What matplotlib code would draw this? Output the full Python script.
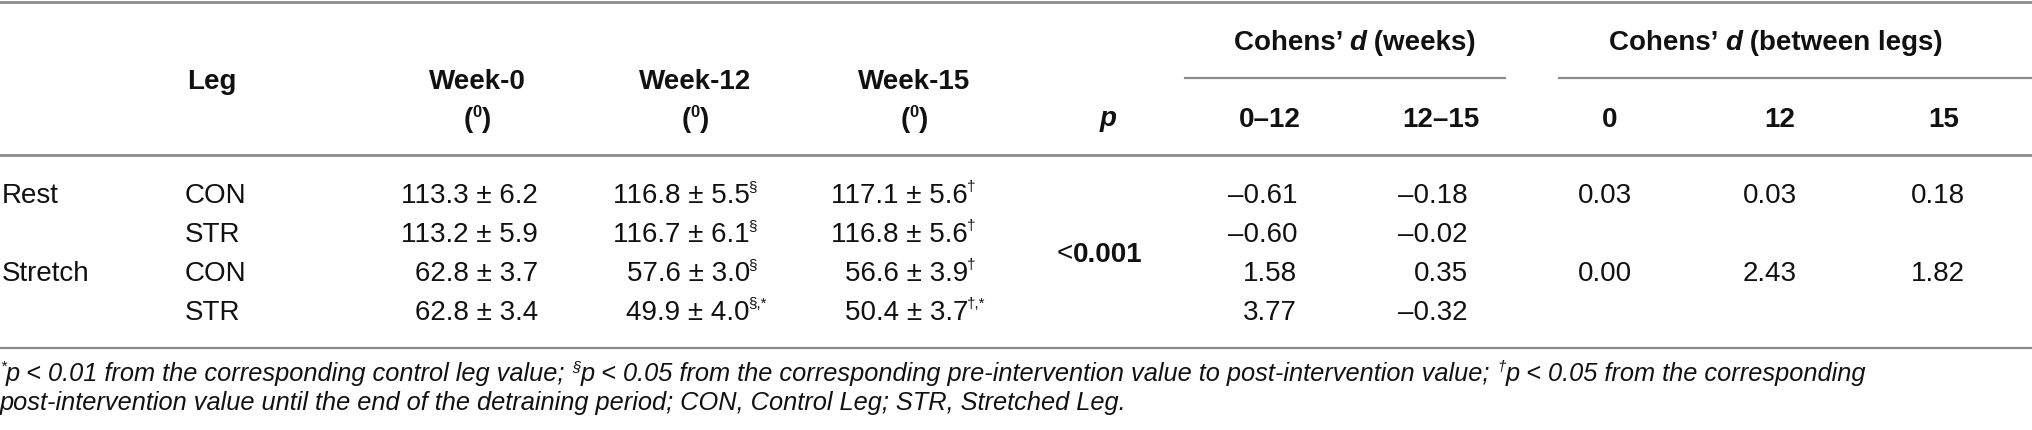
import matplotlib
matplotlib.use("Agg")
import matplotlib.pyplot as plt

# table values
groups = ["Rest", "", "Stretch", ""]
legs = ["CON", "STR", "CON", "STR"]
wk0_mean = [113.3, 113.2, 62.8, 62.8]
wk0_sd = [6.2, 5.9, 3.7, 3.4]
wk12_mean = [116.8, 116.7, 57.6, 49.9]
wk12_sd = [5.5, 6.1, 3.0, 4.0]
wk12_sup = ["§", "§", "§", "§,*"]
wk15_mean = [117.1, 116.8, 56.6, 50.4]
wk15_sd = [5.6, 5.6, 3.9, 3.7]
wk15_sup = ["†", "†", "†", "†,*"]
d_0_12 = [-0.61, -0.60, 1.58, 3.77]
d_12_15 = [-0.18, -0.02, 0.35, -0.32]
legs_rows = [0, 2]
d_leg_0 = [0.03, 0.00]
d_leg_12 = [0.03, 2.43]
d_leg_15 = [0.18, 1.82]
p_text = "0.001"

FS = 20
FN = 18.3
TC = "#111111"
plt.rcParams['font.family'] = ['Liberation Sans', 'DejaVu Sans']

fig = plt.figure(figsize=(20.32, 4.30), dpi=100)
ax = fig.add_axes([0, 0, 1, 1])
ax.set_xlim(0, 2032)
ax.set_ylim(430, 0)
ax.axis("off")
fig.canvas.draw()
rend = fig.canvas.get_renderer()


def width(s, **kw):
    # measure advance with sentinels so spaces count
    t1 = ax.text(0, 0, "|" + s + "|", **kw)
    t2 = ax.text(0, 0, "||", **kw)
    w = t1.get_window_extent(rend).width - t2.get_window_extent(rend).width
    t1.remove()
    t2.remove()
    return w


def runs(x, y, parts, ha="left"):
    # parts: (text, size, style, weight, dy)
    ws = []
    for txt, size, style, weight, dy in parts:
        ws.append(width(txt, fontsize=size, fontstyle=style, fontweight=weight))
    total = sum(ws)
    if ha == "center":
        x -= total / 2
    elif ha == "right":
        x -= total
    for (txt, size, style, weight, dy), w in zip(parts, ws):
        ax.text(x, y + dy, txt, fontsize=size, fontstyle=style,
                fontweight=weight, va="baseline", ha="left", color=TC)
        x += w


def txt(x, y, s, ha="left", weight="normal"):
    ax.text(x, y, s, fontsize=FS, fontweight=weight, va="baseline", ha=ha, color=TC)


def sup_val(xr, y, main, sup=""):
    txt(xr, y, main, ha="right")
    if sup:
        ax.text(xr - 1.5, y - 12, sup, fontsize=FS * 0.55, va="baseline", ha="left", color=TC)


def fmt(v):
    s = "%.2f" % abs(v)
    return ("\u2013" + s) if v < 0 else s


line_c = "#8c8c8c"
ax.plot([0, 2032], [1.5, 1.5], color=line_c, lw=2)
ax.plot([0, 2032], [154.5, 154.5], color=line_c, lw=2)
ax.plot([0, 2032], [348, 348], color=line_c, lw=1.6)
ax.plot([1185, 1505], [78, 78], color=line_c, lw=1.6)
ax.plot([1559, 2032], [78, 78], color=line_c, lw=1.6)

# header
txt(187, 89, "Leg", weight="bold")
for xc, lab in [(477, "Week-0"), (695, "Week-12"), (914, "Week-15")]:
    txt(xc, 89, lab, ha="center", weight="bold")
    runs(xc, 127, [("(", FS, "normal", "bold", 0), ("0", FS * 0.6, "normal", "bold", -10),
                   (")", FS, "normal", "bold", 0)], ha="center")
runs(1108, 126, [("p", FS, "italic", "bold", 0)], ha="center")
runs(1355, 50, [("Cohens\u2019 ", FS, "normal", "bold", 0), ("d", FS, "italic", "bold", 0),
                (" (weeks)", FS, "normal", "bold", 0)], ha="center")
runs(1776, 50, [("Cohens\u2019 ", FS, "normal", "bold", 0), ("d", FS, "italic", "bold", 0),
                (" (between legs)", FS, "normal", "bold", 0)], ha="center")
for xc, lab in [(1270, "0\u201312"), (1441, "12\u201315"), (1610, "0"), (1780, "12"), (1944, "15")]:
    txt(xc, 127, lab, ha="center", weight="bold")

# body
row_y = [203, 242, 281, 320]
for i in range(4):
    y = row_y[i]
    txt(2, y, groups[i])
    txt(185, y, legs[i])
    sup_val(538, y, "%.1f ± %.1f" % (wk0_mean[i], wk0_sd[i]))
    sup_val(750, y, "%.1f ± %.1f" % (wk12_mean[i], wk12_sd[i]), wk12_sup[i])
    sup_val(968, y, "%.1f ± %.1f" % (wk15_mean[i], wk15_sd[i]), wk15_sup[i])
    txt(1297, y, fmt(d_0_12[i]), ha="right")
    txt(1468, y, fmt(d_12_15[i]), ha="right")

for j, r in enumerate(legs_rows):
    y = row_y[r]
    txt(1632, y, fmt(d_leg_0[j]), ha="right")
    txt(1797, y, fmt(d_leg_12[j]), ha="right")
    txt(1965, y, fmt(d_leg_15[j]), ha="right")

runs(1100, (row_y[1] + row_y[2]) / 2, [("<", FS, "normal", "normal", 0),
                                       (p_text, FS, "normal", "bold", 0)], ha="center")

# footnote
sp = FN * 0.6
runs(0, 381, [("*", sp, "italic", "normal", -10), ("p < 0.01 from the corresponding control leg value; ", FN, "italic", "normal", 0),
              ("§", sp, "italic", "normal", -10),
              ("p < 0.05 from the corresponding pre-intervention value to post-intervention value; ", FN, "italic", "normal", 0),
              ("†", sp, "italic", "normal", -10), ("p < 0.05 from the corresponding", FN, "italic", "normal", 0)])
runs(0, 410, [("post-intervention value until the end of the detraining period; CON, Control Leg; STR, Stretched Leg.",
               FN, "italic", "normal", 0)])

fig.savefig("out.png", dpi=100)
